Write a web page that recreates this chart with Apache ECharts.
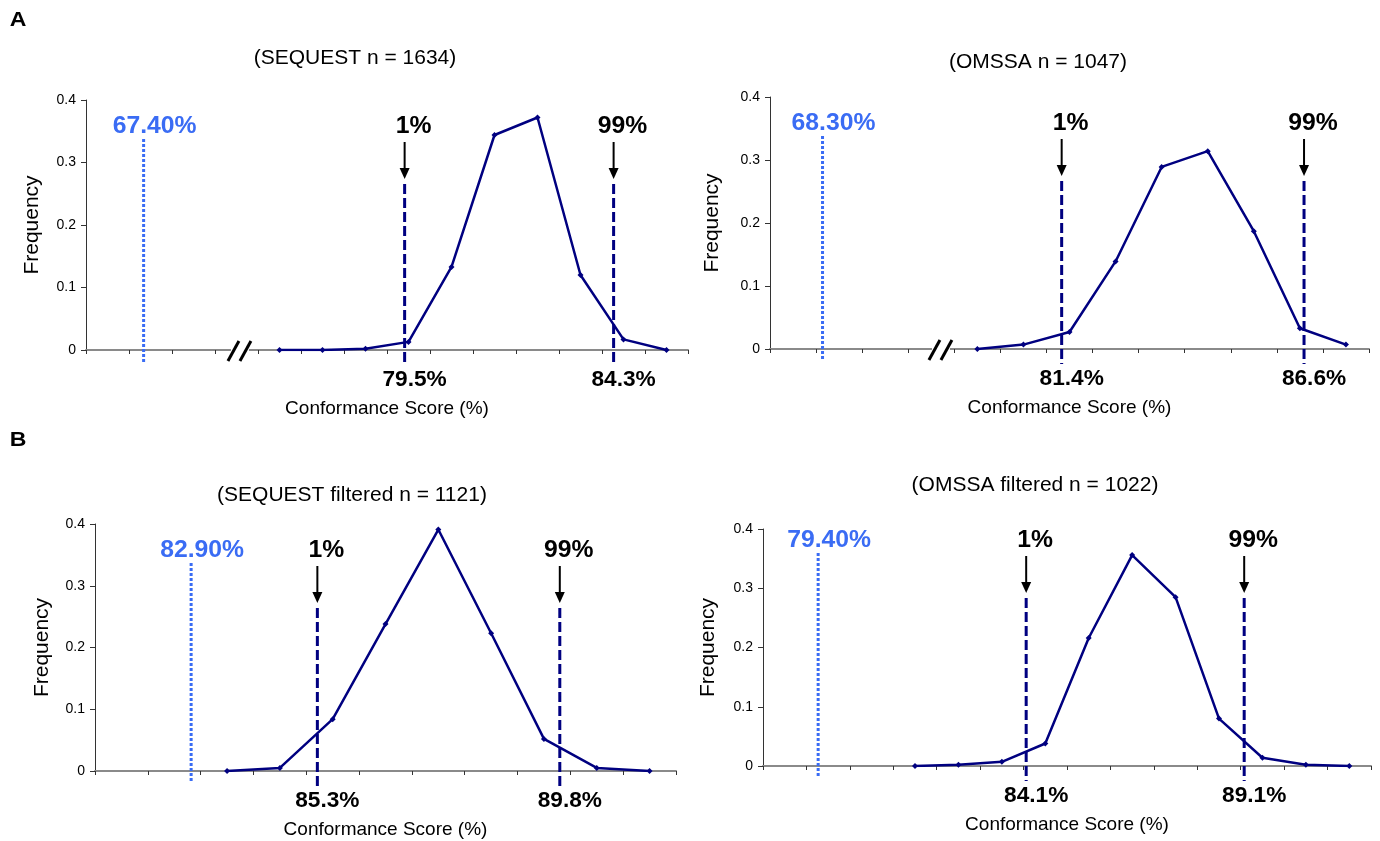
<!DOCTYPE html>
<html>
<head>
<meta charset="utf-8">
<script src="https://cdn.jsdelivr.net/npm/echarts@6/dist/echarts.min.js"></script>
<style>
  html, body { margin: 0; padding: 0; background: #fff; }
  #main { width: 1380px; height: 841px; }
</style>
</head>
<body>
<div id="main"></div>
<script>
// panels: A left, A right, B left, B right
const panelTitles = ['(SEQUEST n = 1634)', '(OMSSA n = 1047)', '(SEQUEST filtered n = 1121)', '(OMSSA filtered n = 1022)']
const binCounts = [14, 13, 11, 14]
const firstBin = [4, 4, 2, 3]

const freqSequest = [0, 0, 0.002, 0.013, 0.133, 0.344, 0.372, 0.12, 0.017, 0]
const freqOmssa = [0, 0.007, 0.027, 0.139, 0.289, 0.314, 0.187, 0.033, 0.007]
const freqSequestFiltered = [0, 0.005, 0.084, 0.238, 0.391, 0.223, 0.052, 0.005, 0]
const freqOmssaFiltered = [0, 0.002, 0.007, 0.038, 0.216, 0.356, 0.285, 0.08, 0.014, 0.002, 0]
const freqs = [freqSequest, freqOmssa, freqSequestFiltered, freqOmssaFiltered]

// threshold markers, in bin units along the x axis
const refLabels = ['67.40%', '68.30%', '82.90%', '79.40%']
const refBins = [1.34, 1.14, 1.82, 1.27]
const lowLabels = ['79.5%', '81.4%', '85.3%', '84.1%']
const lowBins = [7.41, 6.33, 4.21, 6.06]
const highLabels = ['84.3%', '86.6%', '89.8%', '89.1%']
const highBins = [12.27, 11.59, 8.8, 11.08]
const breakBins = [3.58, 3.71, null, null]

// layout
const gridLeft = [86, 770, 95, 763]
const gridTop = [100, 97, 524, 529]
const gridWidth = [602, 599, 581, 608]
const gridHeight = [250, 252, 247, 237]
const titleX = [355, 1038, 352, 1035]
const titleY = [58, 62, 495, 485]
const yNameGap = [43, 47, 42, 44]
const markShift = [0, 0, 0, -15]

const FONT = 'Liberation Sans, Arial, sans-serif'
const NAVY = '#000080'
const BLUE = '#3a6cf4'

// the source figure is a little stretched sideways, so some texts get scaleX
function txt (text, x, y, size, color, bold, sx) {
  return {
    type: 'text',
    x: x,
    y: y,
    scaleX: sx || 1,
    style: {
      text: text,
      x: 0,
      y: 0,
      font: (bold ? 'bold ' : '') + size + 'px ' + FONT,
      fill: color,
      align: 'center',
      verticalAlign: 'middle',
      textAlign: 'center',
      textVerticalAlign: 'middle'
    }
  }
}

function makeRender (p) {
  return function (params, api) {
    const kind = api.value(1)
    const base = api.coord([api.value(0), 0])
    const top = api.coord([api.value(0), 0.4])
    const px = base[0]
    const y0 = base[1]
    const yt = top[1] + markShift[p]
    const children = []
    if (kind === 0) {
      children.push({
        type: 'line',
        shape: { x1: px, y1: yt + 39, x2: px, y2: y0 + 12 },
        style: { stroke: BLUE, lineWidth: 3, lineDash: [3, 2] }
      })
      children.push(txt(refLabels[p], px + 11, yt + 26, 24, BLUE, true, 1.03))
    } else if (kind === 1 || kind === 2) {
      children.push({
        type: 'line',
        shape: { x1: px, y1: yt + 84, x2: px, y2: y0 + 15 },
        style: { stroke: NAVY, lineWidth: 3, lineDash: [10, 4] }
      })
      children.push({
        type: 'line',
        shape: { x1: px, y1: yt + 42, x2: px, y2: yt + 70 },
        style: { stroke: '#000', lineWidth: 2 }
      })
      children.push({
        type: 'polygon',
        shape: { points: [[px - 5, yt + 68], [px + 5, yt + 68], [px, yt + 79]] },
        style: { fill: '#000' }
      })
      children.push(txt(kind === 1 ? '1%' : '99%', px + 9, yt + 26, 24, '#000', true, 1.03))
      children.push(txt(kind === 1 ? lowLabels[p] : highLabels[p], px + 10, y0 + 30, 22, '#000', true, 1.03))
    } else if (kind === 3) {
      children.push({
        type: 'rect',
        shape: { x: px - 9, y: y0 - 2, width: 18, height: 4 },
        style: { fill: '#fff' }
      })
      children.push({
        type: 'line',
        shape: { x1: px - 12, y1: y0 + 11, x2: px - 1, y2: y0 - 9 },
        style: { stroke: '#000', lineWidth: 3 }
      })
      children.push({
        type: 'line',
        shape: { x1: px, y1: y0 + 11, x2: px + 11, y2: y0 - 9 },
        style: { stroke: '#000', lineWidth: 3 }
      })
    }
    return { type: 'group', children: children }
  }
}

const grids = []; const xAxes = []; const yAxes = []; const series = []; const graphics = []
for (let p = 0; p < 4; p++) {
  grids.push({ left: gridLeft[p], top: gridTop[p], width: gridWidth[p], height: gridHeight[p], containLabel: false })
  xAxes.push({
    type: 'value',
    gridIndex: p,
    min: 0,
    max: binCounts[p],
    interval: 1,
    name: 'Conformance Score (%)',
    nameLocation: 'middle',
    nameGap: 49,
    nameTextStyle: { fontFamily: FONT, fontSize: 19, color: '#000' },
    axisLine: { lineStyle: { color: '#8a8a8a', width: 2 } },
    axisTick: { length: 4, lineStyle: { color: '#333', width: 1 } },
    axisLabel: { show: false },
    splitLine: { show: false }
  })
  yAxes.push({
    type: 'value',
    gridIndex: p,
    min: 0,
    max: 0.4,
    interval: 0.1,
    name: 'Frequency',
    nameLocation: 'middle',
    nameGap: yNameGap[p],
    nameTextStyle: { fontFamily: FONT, fontSize: 21, color: '#000' },
    axisLine: { show: true, lineStyle: { color: '#333', width: 1 } },
    axisTick: { show: true, length: 5, lineStyle: { color: '#333' } },
    axisLabel: { fontFamily: FONT, fontSize: 14, color: '#000', margin: 10 },
    splitLine: { show: false }
  })
  series.push({
    type: 'line',
    xAxisIndex: p,
    yAxisIndex: p,
    data: freqs[p].map((v, k) => [firstBin[p] + k + 0.5, v]),
    symbol: 'diamond',
    symbolSize: 6,
    itemStyle: { color: NAVY },
    lineStyle: { color: NAVY, width: 2.5 },
    z: 3
  })
  const marks = [[refBins[p], 0], [lowBins[p], 1], [highBins[p], 2]]
  if (breakBins[p] !== null) marks.push([breakBins[p], 3])
  series.push({
    type: 'custom',
    xAxisIndex: p,
    yAxisIndex: p,
    data: marks,
    renderItem: makeRender(p),
    clip: false,
    z: 4
  })
  graphics.push(txt(panelTitles[p], titleX[p], titleY[p], 20, '#000', false, 1.05))
}
graphics.push(txt('A', 18, 20, 21, '#000', true, 1.1))
graphics.push(txt('B', 18, 440, 21, '#000', true, 1.1))

const chart = echarts.init(document.getElementById('main'))
chart.setOption({
  animation: false,
  backgroundColor: '#fff',
  grid: grids,
  xAxis: xAxes,
  yAxis: yAxes,
  series: series,
  graphic: graphics
})
window.onresize = () => { chart.resize() }
</script>
</body>
</html>
